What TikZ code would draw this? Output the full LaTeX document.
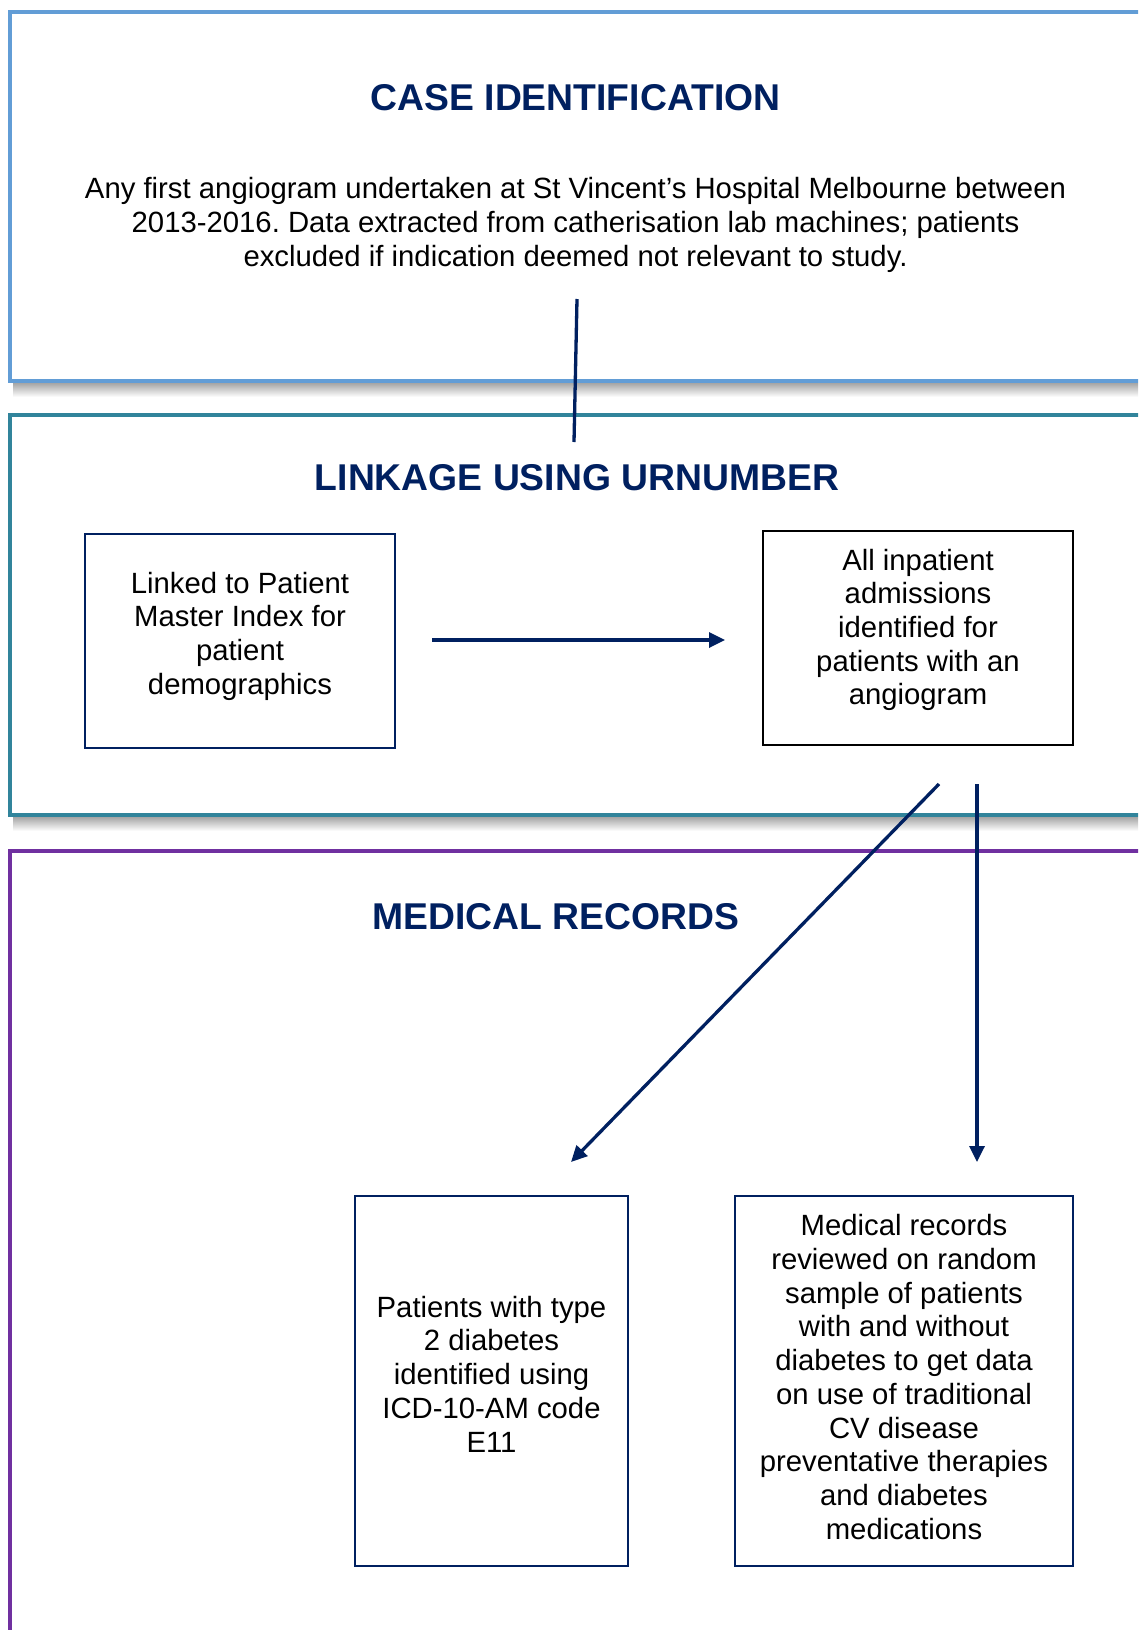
\documentclass[tikz,border=0pt]{standalone}
\usepackage{fontspec}
\setmainfont{Liberation Sans}
\usetikzlibrary{arrows.meta,calc}
\definecolor{navy}{RGB}{0,32,96}
\definecolor{secblue}{RGB}{98,157,214}
\definecolor{secteal}{RGB}{49,132,155}
\definecolor{secpurple}{RGB}{112,48,160}
\frenchspacing

\begin{document}
\begin{tikzpicture}[x=1pt,y=-1pt,
  sectionframe/.style={draw, line width=3.5pt, inner sep=0pt, outer sep=0pt, anchor=north west, minimum width=1200pt},
  heading/.style={font=\fontsize{37.3}{42}\selectfont\bfseries, text=navy, inner sep=0pt, anchor=base},
  bodytext/.style={font=\fontsize{29.3}{33.7}\selectfont, align=center, inner sep=0pt},
  stepbox/.style={draw=navy, line width=2.5pt, inner sep=0pt, outer sep=0pt},
  flow/.style={draw=navy, line width=3.3pt},
  flowarrow/.style={flow, -{Triangle[length=16pt,width=15pt]}},
  shadowband/.style={top color=black!35, bottom color=white, draw=none}
]
\useasboundingbox (0,0) rectangle (1138,1630);
\clip (0,0) rectangle (1138,1630);
\fill[white] (0,0) rectangle (1138,1630);

% soft shadows under the section frames
\shade[shadowband] (13,383) rectangle (1160,397);
\shade[shadowband] (13,817) rectangle (1160,831);

% section frames
\node[sectionframe, draw=secblue, minimum height=369pt] (sec1) at (10,12) {};
\node[sectionframe, draw=secteal, minimum height=400pt] (sec2) at (10,415) {};
\node[sectionframe, draw=secpurple, minimum height=900pt] (sec3) at (10,851) {};

% headings
\node[heading] (t1) at (575.5,110) {CASE IDENTIFICATION};
\node[heading] (t2) at (577,490) {LINKAGE USING URNUMBER};
\node[heading] (t3) at (556,929) {MEDICAL RECORDS};

% case identification description
\node[bodytext] (d1) at (575.5,225) {Any first angiogram undertaken at St Vincent’s Hospital Melbourne between\\2013-2016. Data extracted from catherisation lab machines; patients\\excluded if indication deemed not relevant to study.};

% linkage boxes
\node[stepbox, minimum width=310pt, minimum height=214pt] (boxA) at (240,641) {};
\node[bodytext] (txtA) at ($(boxA.center)+(0,-5)$) {Linked to Patient\\Master Index for\\patient\\demographics};

\node[stepbox, draw=black, minimum width=310pt, minimum height=214pt] (boxB) at (918,638) {};
\node[bodytext] (txtB) at ($(boxB.center)+(0,-8)$) {All inpatient\\admissions\\identified for\\patients with an\\angiogram};

% medical records boxes
\node[stepbox, minimum width=273pt, minimum height=370pt] (boxC) at (491.5,1381) {};
\node[bodytext] (txtC) at ($(boxC.center)+(0,-7)$) {Patients with type\\2 diabetes\\identified using\\ICD-10-AM code\\E11};

\node[stepbox, minimum width=338pt, minimum height=370pt] (boxD) at (904,1381) {};
\node[bodytext] (txtD) at ($(boxD.center)+(0,-4)$) {Medical records\\reviewed on random\\sample of patients\\with and without\\diabetes to get data\\on use of traditional\\CV disease\\preventative therapies\\and diabetes\\medications};

% connectors
\draw[flow] ($(t1.base)+(1.5,189)$) -- ($(t2.base)+(-3,-48)$);
\draw[flowarrow] ($(boxA.east)+(37,-1)$) -- ($(boxB.west)+(-38,2)$);
\draw[flowarrow] ($(boxB.south)+(21,39)$) -- ($(boxC.north)+(79.5,-34)$);
\draw[flowarrow] ($(boxB.south)+(59,39)$) -- ($(boxD.north)+(73,-34)$);
\end{tikzpicture}
\end{document}
